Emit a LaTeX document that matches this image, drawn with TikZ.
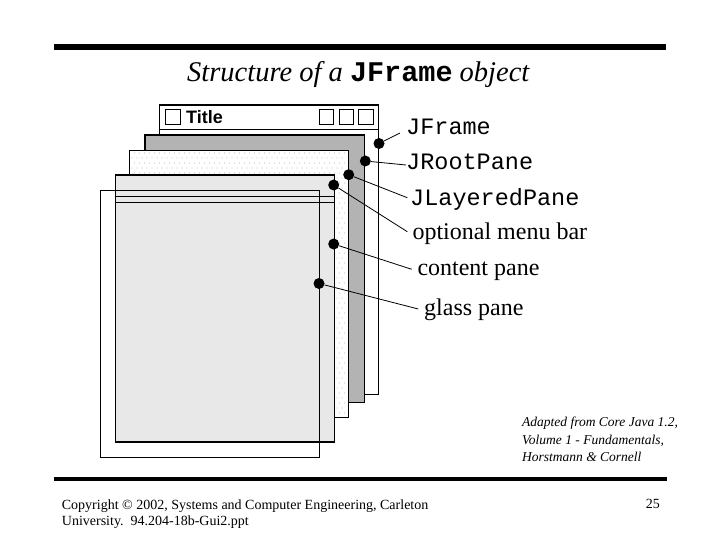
\documentclass[tikz,border=0pt]{standalone}
\usepackage{fontspec}
\setmainfont{Liberation Serif}
\setsansfont{Liberation Sans}
\setmonofont{Liberation Mono}
\definecolor{rootgray}{RGB}{179,179,179}
\definecolor{contentgray}{RGB}{232,232,232}
\definecolor{dotgray}{RGB}{195,195,195}
\tikzset{
  pane/.style={draw=black, line width=1.4pt},
  tbox/.style={draw=black, line width=0.9pt},
  bullet/.style={circle, fill=black, inner sep=0pt, minimum size=11pt},
  monolabel/.style={anchor=base west, inner sep=0pt, font=\fontsize{23.5}{26}\selectfont\ttfamily},
  seriflabel/.style={anchor=base west, inner sep=0pt, font=\fontsize{24}{26}\selectfont\rmfamily},
  leader/.style={draw=black, line width=0.8pt},
  smalltext/.style={anchor=base west, inner sep=0pt, font=\fontsize{13.5}{17.5}\selectfont\itshape, align=left},
  foot/.style={anchor=base west, inner sep=0pt, font=\fontsize{14}{15.5}\selectfont, align=left}
}
\begin{document}
\begin{tikzpicture}[x=1pt,y=-1pt]
\useasboundingbox (0,0) rectangle (720,540);
% rules
\fill[black] (54,44.5) rectangle (666,50.5);
\fill[black] (54,477.3) rectangle (667,480.8);
% title
\node[anchor=base west, inner sep=0pt, font=\fontsize{28.5}{30}\selectfont\itshape] (title) at (187,81.5)
  {Structure of a {\upshape\ttfamily\bfseries JFrame} object};
% JFrame window
\draw[pane, fill=white] (159.3,105) rectangle (378.3,394.3);
\draw[pane] (159.3,129.3) -- (378.3,129.3);
\draw[tbox] (165,109.3) rectangle (180.3,124.3);
\node[anchor=base west, inner sep=0pt, font=\fontsize{18}{20}\selectfont\sffamily\bfseries] (ttl) at (186,123.3) {Title};
\draw[tbox] (319.3,109.3) rectangle (333.7,124.3);
\draw[tbox] (339,109.3) rectangle (353.7,124.3);
\draw[tbox] (358.7,109.3) rectangle (373.7,124.3);
% root pane
\draw[pane, fill=rootgray] (145,135) rectangle (364.3,402.3);
% layered pane (dotted)
\draw[pane, fill=white] (129.3,150.3) rectangle (348.7,417.3);
\foreach \yy [count=\i] in {153,158,...,415} {
  \pgfmathsetmacro{\off}{mod(\i,2)*2.5}
  \foreach \xx in {132,137,...,345} {
    \fill[dotgray] (\xx+\off,\yy) circle (0.55);
  }
}
\draw[pane] (129.3,150.3) rectangle (348.7,417.3);
% content pane
\draw[pane, fill=contentgray] (115.3,175) rectangle (334.3,442);
\draw[pane] (115.3,196.3) -- (334.3,196.3);
\draw[pane] (115.3,202.3) -- (334.3,202.3);
% glass pane
\draw[pane] (100.7,190.3) rectangle (319.3,457.3);
% labels
\node[monolabel] (lf) at (406,135) {JFrame};
\node[monolabel] (lr) at (406,170) {JRootPane};
\node[monolabel] (ll) at (410,205.3) {JLayeredPane};
\node[seriflabel] (lm) at (412.3,240) {optional menu bar};
\node[seriflabel] (lc) at (417.3,275) {content pane};
\node[seriflabel] (lg) at (424,315) {glass pane};
% dots
\node[bullet] (d1) at (379,143.5) {};
\node[bullet] (d2) at (365.3,161) {};
\node[bullet] (d3) at (348.7,174.7) {};
\node[bullet] (d4) at (333.7,185) {};
\node[bullet] (d5) at (333.7,244) {};
\node[bullet] (d6) at (319,283.5) {};
% leaders
\draw[leader] (d1) -- ([shift={(-6,-2)}]lf.base west);
\draw[leader] (d2) -- ([shift={(0,-5)}]lr.base west);
\draw[leader] (d3) -- ([shift={(-2.7,-7.6)}]ll.base west);
\draw[leader] (d4) -- ([shift={(-5,-8.3)}]lm.base west);
\draw[leader] (d5) -- ([shift={(-5.6,-5.7)}]lc.base west);
\draw[leader] (d6) -- ([shift={(-5.7,-6)}]lg.base west);
% credits (base anchor of a multi-line node is the last line)
\node[smalltext] (src) at (522,461.7) {Adapted from Core Java 1.2,\\Volume 1 - Fundamentals,\\Horstmann \& Cornell};
\node[foot] (copy) at (61.7,525) {Copyright \textcopyright{} 2002, Systems and Computer Engineering, Carleton\\University.\ \ 94.204-18b-Gui2.ppt};
\node[foot] (pg) at (645.7,508.3) {25};
\end{tikzpicture}
\end{document}
